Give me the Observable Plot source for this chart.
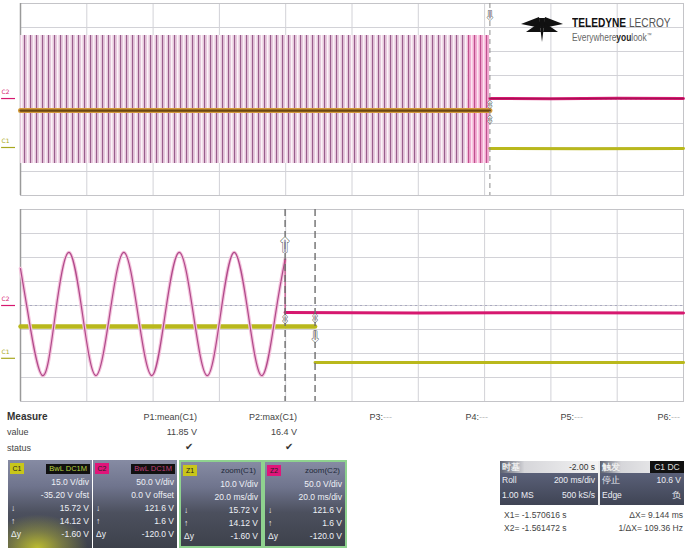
<!DOCTYPE html>
<html><head><meta charset="utf-8">
<script src="https://cdn.jsdelivr.net/npm/d3@7"></script>
<script src="https://cdn.jsdelivr.net/npm/@observablehq/plot@0.6"></script>
<style>
body{margin:0;background:#fff;font-family:"Liberation Sans",Arial,sans-serif;}
#root{position:relative;width:687px;height:550px;overflow:hidden;background:#fff;}
.abs{position:absolute;white-space:nowrap;}
.plot{position:absolute;left:0;}
.mtxt{font-size:9px;color:#444;line-height:10px;}
.box{position:absolute;top:460px;height:88px;box-sizing:border-box;overflow:hidden;
  background:linear-gradient(#868ba3 0%,#6f748d 30%,#4c505e 60%,#3d414b 100%);}
.box .row{position:absolute;left:0;right:3px;height:12px;line-height:12px;font-size:8.5px;color:#eef0f6;text-align:right;}
.box .sym{position:absolute;left:3px;font-size:8.5px;color:#eef0f6;}
.badge{position:absolute;top:3px;left:2px;width:14px;height:11px;font-size:7px;line-height:11px;text-align:center;color:#222;}
.head{position:absolute;top:4px;right:2px;height:10px;line-height:10px;font-size:7.5px;padding:0 3px;}
.info{position:absolute;font-size:8.5px;line-height:12px;}
</style></head><body>
<svg width="0" height="0" style="position:absolute">
<defs>
<pattern id="stripes" width="6" height="10" patternUnits="userSpaceOnUse">
  <rect width="6" height="10" fill="#e7c9dd"/>
  <rect x="0" width="1.1" height="10" fill="#9a5e8d"/>
  <rect x="3" width="1.5" height="10" fill="#fbf3f8"/>
</pattern>
<pattern id="stripesHot" width="6" height="10" patternUnits="userSpaceOnUse">
  <rect width="6" height="10" fill="#f2acd2"/>
  <rect x="0" width="1.1" height="10" fill="#c0508e"/>
  <rect x="3" width="1.5" height="10" fill="#fce6f1"/>
</pattern>
</defs></svg>
<div id="root"></div>
<script>
// ---------------- DATA (x in ms, y in screen divisions) ----------------
const topGridMs = [0,200,400,600,800,1000,1200,1400,1600,1800,2000];
const zoomGridMs = [0,20,40,60,80,100,120,140,160,180,200];
const gridDiv = [-4,-3,-2,-1,0,1,2,3,4];

// Top trace (200 ms/div, roll): C2 dense oscillation envelope
const c2EnvT = [0, 1349];
const c2EnvHi = [2.67, 2.67];
const c2EnvLo = [-2.67, -2.67];
const c2TailT = [1349, 1416];
const c2AfterT = [1416, 1600, 1800, 2000];
const c2AfterY = [0.04, 0.03, 0.05, 0.04];
const c1BeforeT = [0, 1416];
const c1BeforeY = [-0.46, -0.46];
const c1AfterT = [1416, 1700, 2000];
const c1AfterY = [-2.04, -2.05, -2.04];
const topCursorT = [1416];
const topMarkersY = {C2: 0.04, C1: -2.0};

// Zoom trace (20 ms/div): C2 sine until the event, then flat
const sineT = [0, 2.26, 6.63, 10.54, 14.61, 18.67, 22.74, 26.96, 31.17, 35.39, 39.61, 43.67, 47.89, 52.11, 56.33, 60.39, 64.46, 68.67, 72.89, 76.96, 79.82];
const sineY = [1.54, -0.33, -2.92, -0.33, 2.21, -0.33, -2.92, -0.33, 2.21, -0.33, -2.92, -0.33, 2.21, -0.33, -2.92, -0.33, 2.21, -0.33, -2.92, -0.33, 1.92];
const c2ZoomAfterT = [79.82, 120, 160, 200];
const c2ZoomAfterY = [-0.29, -0.31, -0.3, -0.31];
const c1ZoomBeforeT = [0, 88.86];
const c1ZoomBeforeY = [-0.875, -0.875];
const c1ZoomAfterT = [88.86, 140, 200];
const c1ZoomAfterY = [-2.375, -2.37, -2.375];
const zoomCursorsT = [79.82, 88.86];
const zoomMarkersY = {C2: 0, C1: -2.2};

// Measurement table
const measNames = ["P1:mean(C1)", "P2:max(C1)", "P3:---", "P4:---", "P5:---", "P6:---"];
const measValues = ["11.85 V", "16.4 V", "", "", "", ""];
const measStatus = ["✔", "✔", "", "", "", ""];

// Channel descriptor boxes
const chanBadges = ["C1", "C2", "Z1", "Z2"];
const chanHeads = ["BwL DC1M", "BwL DC1M", "zoom(C1)", "zoom(C2)"];
const chanScale = ["15.0 V/div", "50.0 V/div", "10.0 V/div", "50.0 V/div"];
const chanOffset = ["-35.20 V ofst", "0.0 V offset", "20.0 ms/div", "20.0 ms/div"];
const chanY1 = ["15.72 V", "121.6 V", "15.72 V", "121.6 V"];
const chanY2 = ["14.12 V", "1.6 V", "14.12 V", "1.6 V"];
const chanDy = ["-1.60 V", "-120.0 V", "-1.60 V", "-120.0 V"];

// Timebase / trigger / cursor readout
const tbLabels = ["时基", "Roll", "1.00 MS"];
const tbValues = ["-2.00 s", "200 ms/div", "500 kS/s"];
const trLabels = ["触发", "停止", "Edge"];
const trValues = ["C1 DC", "10.6 V", "负"];
const cursorText = [["X1= -1.570616 s", "ΔX= 9.144 ms"], ["X2= -1.561472 s", "1/ΔX= 109.36 Hz"]];

// ---------------- BUILD ----------------
const root = document.getElementById("root");
const pts = (T, Y) => T.map((t, i) => ({t, y: Y[i]}));
const PINK = "#d6186f", YEL = "#b9b81c", YELTXT = "#a8a820";
const ARROWFONT = "DejaVu Sans";

function gridMarks(xs) {
  return [
    Plot.gridX(xs, {stroke: "#d2d2d7", strokeOpacity: 1, strokeWidth: 1}),
    Plot.gridY(gridDiv, {stroke: "#d2d2d7", strokeOpacity: 1, strokeWidth: 1}),
    Plot.ruleY([0], {stroke: "#a9a9c0", strokeDasharray: "2,3"}),
    Plot.frame({stroke: "#c4c4c8"}),
    Plot.ruleX([xs[0]], {stroke: "#9a9a9a", strokeWidth: 1.5})
  ];
}
function channelMarkers(m, x1, x2) {
  return [
    Plot.ruleY([m.C2], {x1, x2, stroke: PINK, strokeWidth: 1.2}),
    Plot.text([m.C2], {x: x1, y: d => d, text: () => "C2", dy: -6, dx: 4, fontSize: 6, fill: PINK}),
    Plot.ruleY([m.C1], {x1, x2, stroke: YELTXT, strokeWidth: 1.2}),
    Plot.text([m.C1], {x: x1, y: d => d, text: () => "C1", dy: -6, dx: 4, fontSize: 6, fill: YELTXT})
  ];
}
function arrow(t, y, ch, size) {
  return Plot.text([t], {x: d => d, y, text: () => ch, fontSize: size, fill: "#fff", stroke: "#555", strokeWidth: 0.9, fontFamily: ARROWFONT});
}

const topPlot = Plot.plot({
  width: 687, height: 198,
  marginLeft: 20, marginRight: 4, marginTop: 3, marginBottom: 3,
  x: {domain: [0, 2000], axis: null},
  y: {domain: [-4, 4], axis: null},
  style: {background: "transparent", overflow: "visible", fontFamily: "DejaVu Sans"},
  marks: [
    ...gridMarks(topGridMs),
    Plot.areaY(c2EnvT.map((t, i) => ({t, lo: c2EnvLo[i], hi: c2EnvHi[i]})), {x: "t", y1: "lo", y2: "hi", fill: "url(#stripes)"}),
    Plot.areaY(c2TailT.map((t) => ({t, lo: c2EnvLo[0], hi: c2EnvHi[0]})), {x: "t", y1: "lo", y2: "hi", fill: "url(#stripesHot)"}),
    Plot.line(pts(c1BeforeT, c1BeforeY), {x: "t", y: "y", stroke: "#d39a3a", strokeWidth: 5}),
    Plot.line(pts(c1BeforeT, c1BeforeY), {x: "t", y: "y", stroke: "#6a4612", strokeWidth: 2.2}),
    Plot.line(pts(c2AfterT, c2AfterY), {x: "t", y: "y", stroke: PINK, strokeWidth: 3}),
    Plot.line(pts(c2AfterT, c2AfterY), {x: "t", y: "y", stroke: "#7a1040", strokeWidth: 1, strokeOpacity: 0.6}),
    Plot.line(pts(c1AfterT, c1AfterY), {x: "t", y: "y", stroke: YEL, strokeWidth: 3}),
    Plot.ruleX(topCursorT, {stroke: "#8a8a8a", strokeDasharray: "5,4", strokeWidth: 1}),
    arrow(topCursorT[0], 3.5, "⇓", 13),
    arrow(topCursorT[0], -0.2, "⇕", 10),
    arrow(topCursorT[0], -0.85, "⇕", 10),
    ...channelMarkers(topMarkersY, -57, -15)
  ]
});
topPlot.classList.add("plot");
topPlot.style.top = "0px";
root.appendChild(topPlot);

const zoomPlot = Plot.plot({
  width: 687, height: 198,
  marginLeft: 20, marginRight: 4, marginTop: 4, marginBottom: 2,
  x: {domain: [0, 200], axis: null},
  y: {domain: [-4, 4], axis: null},
  style: {background: "transparent", overflow: "visible", fontFamily: "DejaVu Sans"},
  marks: [
    ...gridMarks(zoomGridMs),
    Plot.line(pts(c1ZoomBeforeT, c1ZoomBeforeY), {x: "t", y: "y", stroke: YEL, strokeWidth: 4.5}),
    Plot.line(pts(c1ZoomAfterT, c1ZoomAfterY), {x: "t", y: "y", stroke: YEL, strokeWidth: 3}),
    Plot.line(pts(sineT, sineY), {x: "t", y: "y", stroke: "#f4c4dd", strokeWidth: 3.6, curve: "natural"}),
    Plot.line(pts(sineT, sineY), {x: "t", y: "y", stroke: "#b0498a", strokeWidth: 1.2, curve: "natural"}),
    Plot.ruleX([{t: 79.82, y1: 1.92, y2: -0.29}], {x: "t", y1: "y1", y2: "y2", stroke: "#c0407f", strokeWidth: 1.2}),
    Plot.line(pts(c2ZoomAfterT, c2ZoomAfterY), {x: "t", y: "y", stroke: PINK, strokeWidth: 3}),
    Plot.ruleX(zoomCursorsT, {stroke: "#6e6e6e", strokeDasharray: "7,4", strokeWidth: 1.4}),
    arrow(zoomCursorsT[0], 2.5, "⇑", 20),
    arrow(zoomCursorsT[0], -0.6, "⇕", 11),
    arrow(zoomCursorsT[1], -0.55, "⇕", 11),
    arrow(zoomCursorsT[1], -1.3, "⇓", 15),
    ...channelMarkers(zoomMarkersY, -5.7, -1.5)
  ]
});
zoomPlot.classList.add("plot");
zoomPlot.style.top = "205px";
root.appendChild(zoomPlot);

// Logo
const logo = document.createElement("div");
logo.className = "abs";
logo.style.cssText = "left:521px;top:14px;width:162px;height:30px;";
logo.innerHTML = `<svg width="42" height="28" style="position:absolute;left:0;top:1px">
  <polygon points="0,9 18,2 20,13" fill="#111"/>
  <polygon points="42,9 24,2 22,13" fill="#111"/>
  <polygon points="18,3 24,3 21,27" fill="#111"/>
  <polygon points="5,17 18,8 20,17" fill="#111"/>
  <polygon points="37,17 24,8 22,17" fill="#111"/></svg>
  <div class="abs" style="left:51px;top:1px;font-size:13px;color:#111;transform:scaleX(0.78);transform-origin:0 0;"><b>TELEDYNE</b> <span style="color:#555;font-weight:normal">LECROY</span></div>
  <div class="abs" style="left:51px;top:17px;font-size:10.5px;color:#666;transform:scaleX(0.8);transform-origin:0 0;">Everywhere<b style="color:#222">you</b>look<sup style="font-size:6px">™</sup></div>`;
root.appendChild(logo);

// Measurement table
function addText(txt, left, top, css) {
  const d = document.createElement("div");
  d.className = "abs mtxt";
  d.textContent = txt;
  d.style.top = top + "px";
  if (left < 0) d.style.right = (-left) + "px"; else d.style.left = left + "px";
  if (css) d.style.cssText += css;
  root.appendChild(d);
  return d;
}
addText("Measure", 7, 412, "font-weight:bold;font-size:10px;color:#333");
addText("value", 7, 427);
addText("status", 7, 443);
const measRight = [197, 297, 392, 488, 583, 680];
measNames.forEach((n, i) => {
  const d = addText("", -(687 - measRight[i]), 412);
  if (n.endsWith("---")) d.innerHTML = n.slice(0, 3) + '<span style="color:#bbb">---</span>';
  else d.textContent = n;
  if (measValues[i]) addText(measValues[i], -(687 - measRight[i]), 427);
  if (measStatus[i]) addText(measStatus[i], -(687 - measRight[i] + 4), 442, "font-size:10px;color:#333");
});

// Channel boxes
const boxLeft = [8, 93, 179, 263];
const boxWidth = [84, 84, 84, 84];
const badgeColor = ["#c9c61a", "#e0157a", "#c9c61a", "#e0157a"];
chanBadges.forEach((b, i) => {
  const box = document.createElement("div");
  box.className = "box";
  box.style.left = boxLeft[i] + "px";
  box.style.width = boxWidth[i] + "px";
  if (i >= 2) box.style.border = "2px solid #8fd28f";
  if (i === 0) box.style.background = "radial-gradient(ellipse 60% 38% at 35% 100%, #bcbc30 0%, rgba(165,165,60,0.55) 50%, rgba(0,0,0,0) 100%), linear-gradient(#868ba3 0%,#6f748d 30%,#4c505e 60%,#3d414b 100%)";
  let html = `<div class="badge" style="background:${badgeColor[i]}">${b}</div>`;
  if (i < 2) html += `<div class="head" style="background:#111;color:${i === 0 ? "#b8d040" : "#c0407a"}">${chanHeads[i]}</div>`;
  else html += `<div class="head" style="color:#1f2a3a;font-size:8px">${chanHeads[i]}</div>`;
  const rows = [chanScale[i], chanOffset[i], chanY1[i], chanY2[i], chanDy[i]];
  const syms = ["", "", "↓", "↑", "Δy"];
  rows.forEach((r, k) => {
    html += `<div class="row" style="top:${16 + k * 13}px">${r}</div>`;
    if (syms[k]) html += `<div class="sym" style="top:${16 + k * 13}px;line-height:12px">${syms[k]}</div>`;
  });
  box.innerHTML = html;
  root.appendChild(box);
});

// Timebase / trigger readout
const tb = document.createElement("div");
tb.className = "abs";
tb.style.cssText = "left:500px;top:461px;width:184px;height:45px;";
let tbHtml = "";
[[tbLabels, tbValues, 0, 98], [trLabels, trValues, 100, 84]].forEach(([L, V, x0, w], c) => {
  tbHtml += `<div class="abs" style="left:${x0}px;top:0;width:${w}px;height:12px;background:linear-gradient(90deg,#5c6170 0%,#d6d6da 25%,#f4f4f4 100%);"></div>`;
  tbHtml += `<div class="info" style="left:${x0 + 2}px;top:0;color:#f0f0f0;font-weight:bold">${L[0]}</div>`;
  if (c === 0) tbHtml += `<div class="info" style="left:${x0}px;width:${w - 3}px;text-align:right;top:0;color:#333">${V[0]}</div>`;
  else tbHtml += `<div class="info" style="left:${x0 + 50}px;width:${w - 50}px;top:0;height:12px;background:#111;color:#ddd;text-align:center">${V[0]}</div>`;
  tbHtml += `<div class="abs" style="left:${x0}px;top:12px;width:${w}px;height:32px;background:linear-gradient(#5a6078,#3f4454);"></div>`;
  for (let k = 1; k < 3; k++) {
    tbHtml += `<div class="info" style="left:${x0 + 2}px;top:${13 + (k - 1) * 15}px;color:#eceef4">${L[k]}</div>`;
    tbHtml += `<div class="info" style="left:${x0}px;width:${w - 3}px;text-align:right;top:${13 + (k - 1) * 15}px;color:#eceef4">${V[k]}</div>`;
  }
});
tbHtml += `<div class="abs" style="left:98px;top:0;width:2px;height:45px;background:#eee"></div>`;
tb.innerHTML = tbHtml;
root.appendChild(tb);

cursorText.forEach((row, k) => {
  addText(row[0], 504, 510 + k * 13, "font-size:8.5px;color:#444");
  addText(row[1], -(687 - 683), 510 + k * 13, "font-size:8.5px;color:#444");
});
</script>
</body></html>
